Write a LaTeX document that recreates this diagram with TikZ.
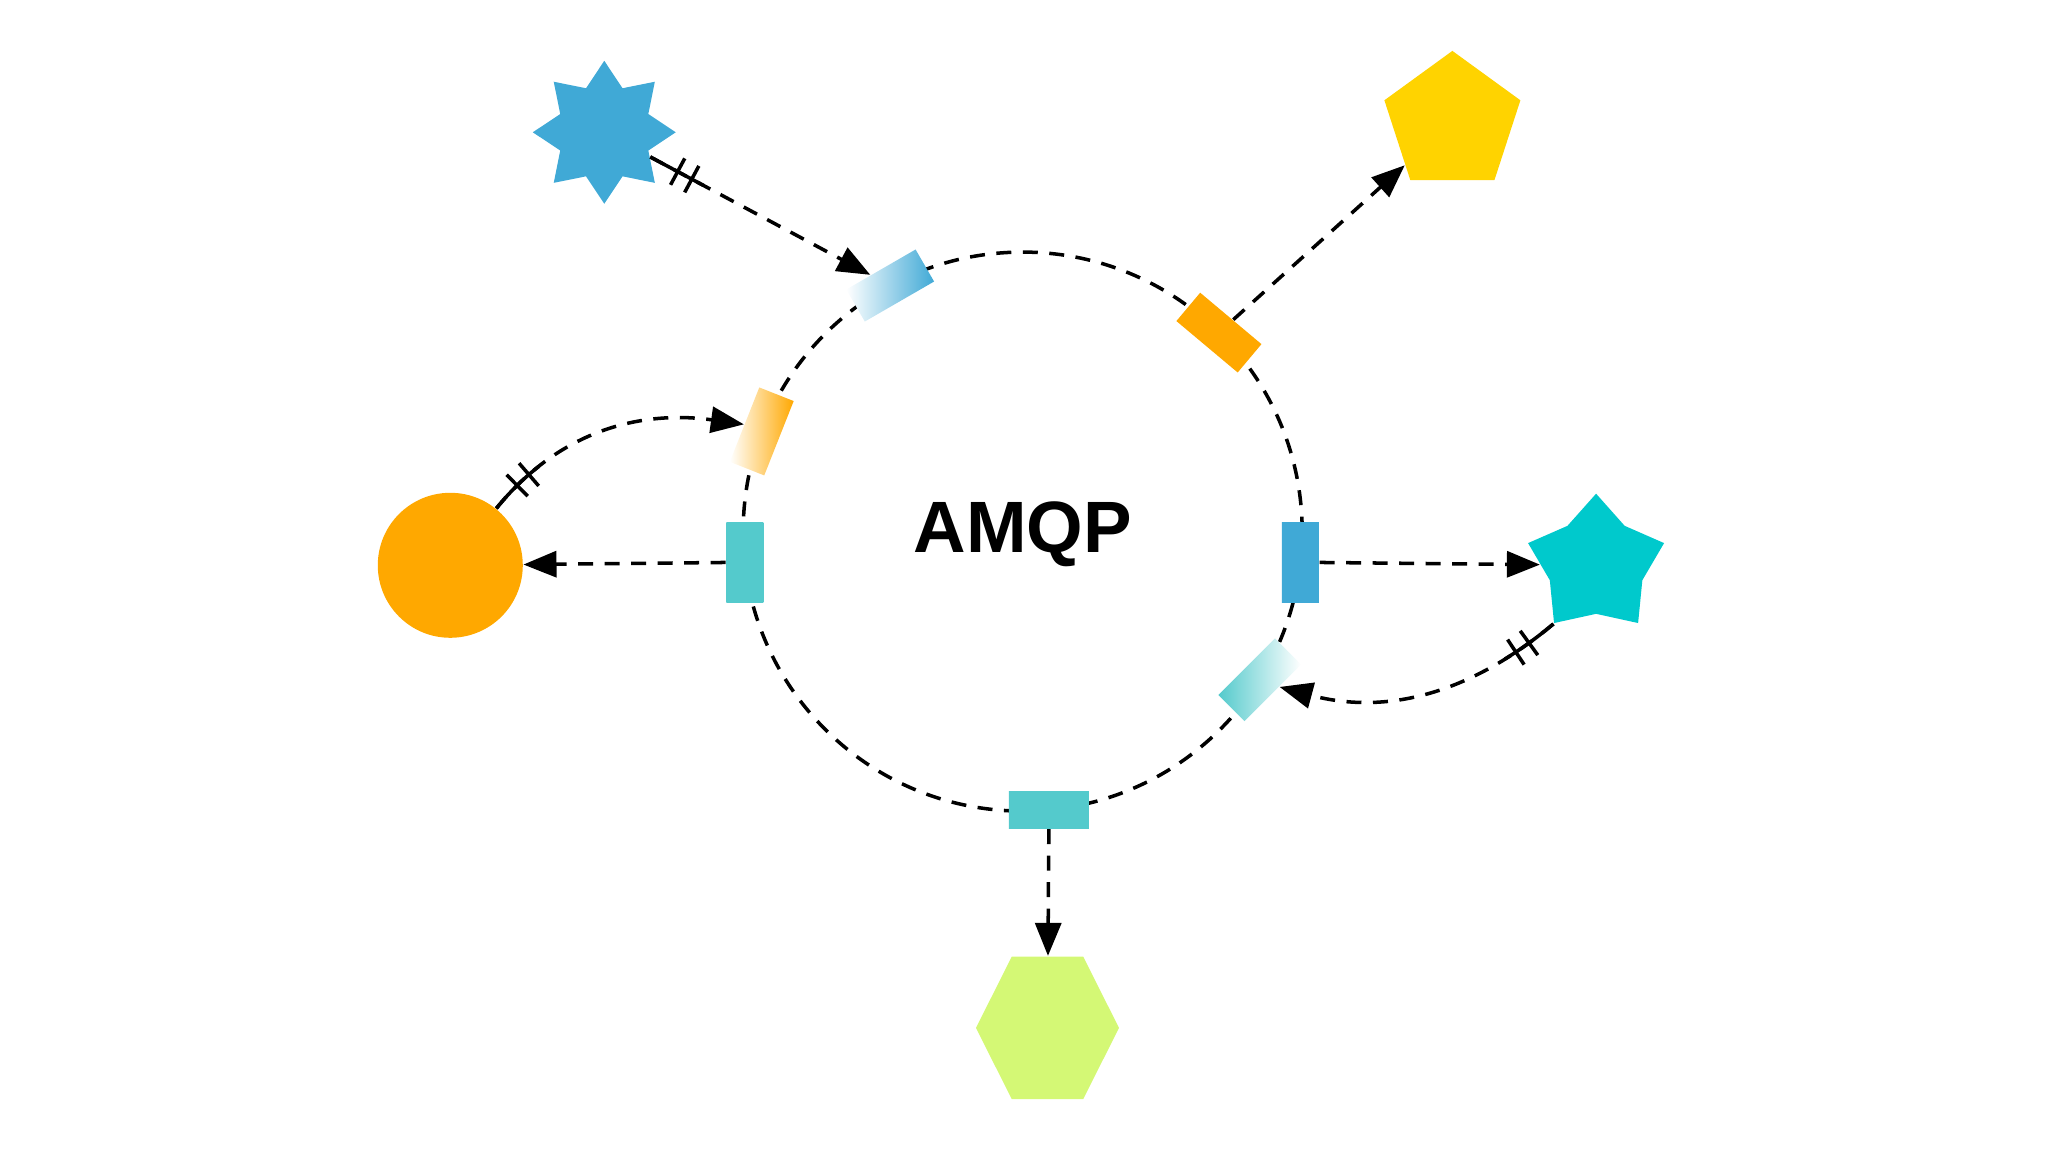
\documentclass[tikz,border=0pt]{standalone}
\usepackage{fontspec}
\setsansfont{Liberation Sans}
\usepackage{tikz}
\usetikzlibrary{arrows.meta,shapes.geometric,decorations.markings}
\definecolor{amqpblue}{RGB}{64,169,214}
\definecolor{amqpyellow}{RGB}{255,211,0}
\definecolor{amqporange}{RGB}{255,168,0}
\definecolor{amqpcyan}{RGB}{0,201,204}
\definecolor{amqplime}{RGB}{212,248,117}
\definecolor{amqpteal}{RGB}{84,202,204}

\begin{document}
\begin{tikzpicture}[
    link/.style={line width=1pt, dash pattern=on 0.15cm off 0.115cm, -{Triangle[length=0.33cm, width=0.26cm]}},
    onestart/.style={postaction={draw, -, dash pattern=on 0.6cm off 50cm},
        postaction={decorate}, decoration={markings,
            mark=at position 0.31cm with {\draw[solid, -] (0,-0.15) -- (0,0.15);},
            mark=at position 0.47cm with {\draw[solid, -] (0,-0.15) -- (0,0.15);}}},
    port/.style={rectangle, draw=none, inner sep=0pt, minimum width=0.8cm, minimum height=0.37cm},
    shp/.style={draw=none, inner sep=0pt, minimum size=1.43cm}
]
\useasboundingbox (-10.227,-6.204) rectangle (10.253,5.316);

\draw[line width=1pt, dash pattern=on 0.15cm off 0.115cm] (0,0) circle (2.795);
\node[font=\sffamily\bfseries\fontsize{20.7}{24}\selectfont] (amqp) at (0,-0.03) {AMQP};

% ports on the ring
\foreach \n/\a/\r/\lc/\rc in {gblue/118.3/30/white/amqpblue, gorfade/159/68.4/white/amqporange,
    pteal/186.3/90/amqpteal/amqpteal, pbottom/275.4/0/amqpteal/amqpteal,
    gtealfade/328/45/amqpteal/white, pblue/353.7/90/amqpblue/amqpblue,
    gorange/45.4/-40/amqporange/amqporange}{
    \node[port, rotate=\r, left color=\lc, right color=\rc] (\n) at (\a:2.795) {};
}

\node[shp, star, star points=8, star point ratio=1.5, fill=amqpblue] (sstar) at (-4.184,3.993) {};
\node[shp, regular polygon, regular polygon sides=5, fill=amqpyellow] (penta) at (4.297,4.092) {};
\node[shp, circle, minimum size=1.45cm, fill=amqporange] (circ) at (-5.724,-0.337) {};
\node[shp, star, star points=5, star point ratio=1.47, fill=amqpcyan] (cstar) at (5.734,-0.336) {};
\node[shp, regular polygon, regular polygon sides=6, yscale=1.15, fill=amqplime] (hexa) at (0.248,-4.963) {};

\draw[link, onestart] (sstar) -- (gblue);
\draw[link] (gorange) -- (penta);
\draw[link] (pblue) -- (cstar);
\draw[link] (pteal) -- (circ);
\draw[link] (pbottom) -- (hexa);
\draw[link, onestart] (circ) to[out=51, in=172] (gorfade.north);
\draw[link, onestart] (cstar.outer point 3) to[out=220, in=-15] (gtealfade.-65);
\end{tikzpicture}
\end{document}
